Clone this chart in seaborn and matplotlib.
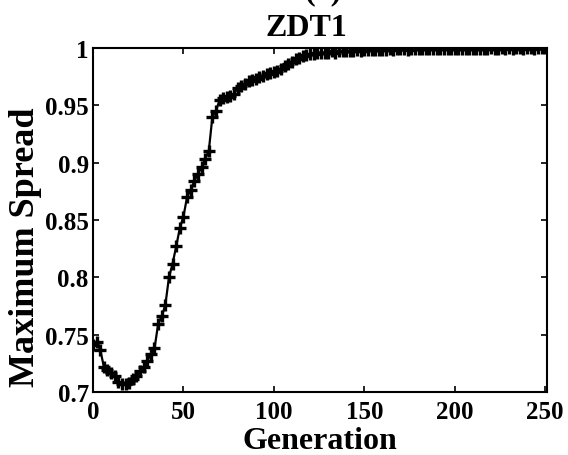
import matplotlib
matplotlib.use("Agg")
import matplotlib.pyplot as plt
import seaborn as sns
import pandas as pd

generation = list(range(0, 252, 2))
max_spread = [
    0.741, 0.744, 0.737, 0.722, 0.719, 0.717, 0.714, 0.709, 0.707, 0.707,
    0.708, 0.711, 0.714, 0.718, 0.722, 0.727, 0.733, 0.738, 0.759, 0.766,
    0.776, 0.800, 0.812, 0.827, 0.843, 0.853, 0.870, 0.876, 0.884, 0.890,
    0.896, 0.903, 0.910, 0.940, 0.945, 0.955, 0.956, 0.957, 0.958, 0.960,
    0.965, 0.967, 0.969, 0.971, 0.972, 0.973, 0.975, 0.976, 0.977, 0.978,
    0.979, 0.980, 0.982, 0.984, 0.986, 0.988, 0.990, 0.991, 0.993, 0.994,
    0.995, 0.995, 0.996, 0.996, 0.996, 0.996, 0.997, 0.996, 0.997, 0.997,
    0.997, 0.997, 0.997, 0.998, 0.997, 0.998, 0.998, 0.998, 0.998, 0.998,
    0.998, 0.998, 0.999, 0.998, 0.999, 0.999, 0.999, 0.998, 0.999, 0.999,
    0.999, 0.999, 0.999, 0.999, 0.999, 0.999, 0.999, 0.999, 0.999, 0.999,
    0.999, 0.999, 0.999, 0.999, 0.999, 0.999, 0.999, 0.999, 0.999, 0.999,
    1.000, 0.999, 0.999, 1.000, 0.999, 1.000, 0.999, 1.000, 1.000, 0.999,
    1.000, 1.000, 0.999, 1.000, 1.000, 1.000,
]
x_ticks = [0, 50, 100, 150, 200, 250]
y_ticks = [0.7, 0.75, 0.8, 0.85, 0.9, 0.95, 1.0]
y_tick_labels = ["0.7", "0.75", "0.8", "0.85", "0.9", "0.95", "1"]

df = pd.DataFrame({"Generation": generation, "Maximum Spread": max_spread})

sns.set_style("ticks")
plt.rcParams["font.family"] = ["Liberation Serif", "DejaVu Serif"]
plt.rcParams["font.weight"] = "bold"
plt.rcParams["text.color"] = "black"
plt.rcParams["axes.labelcolor"] = "black"
plt.rcParams["xtick.color"] = "black"
plt.rcParams["ytick.color"] = "black"

fig = plt.figure(figsize=(5.68, 4.56), dpi=100)
ax = fig.add_axes([93 / 568, 1 - 393 / 456, 454 / 568, 344 / 456])

sns.lineplot(data=df, x="Generation", y="Maximum Spread", ax=ax, color="black",
             linewidth=1.6, marker="+", markersize=8, markeredgewidth=2.4,
             markeredgecolor="black")

ax.set_xlim(0, 251)
ax.set_ylim(0.7, 1.0)
ax.set_xticks(x_ticks)
ax.set_yticks(y_ticks)
ax.set_yticklabels(y_tick_labels)
ax.tick_params(direction="in", length=4, width=1.2, top=True, right=True,
               labelsize=18, colors="black")
ax.tick_params(axis="y", pad=3)
ax.tick_params(axis="x", pad=6)
for lab in ax.get_xticklabels() + ax.get_yticklabels():
    lab.set_fontweight("bold")
for s in ax.spines.values():
    s.set_linewidth(1.5)
    s.set_color("black")

ax.set_xlabel("Generation", fontsize=23, fontweight="bold", labelpad=2, color="black")
ax.set_ylabel("Maximum Spread", fontsize=26, fontweight="bold", color="black")
ax.yaxis.set_label_coords(-0.113, 0.424)
ax.set_title("ZDT1", fontsize=23, fontweight="bold", pad=9, x=0.471, color="black")
fig.text(323 / 568, 1 - 6 / 456, "(a)", fontsize=23, fontweight="bold",
         ha="center", va="bottom", color="black")

fig.savefig("out.png", dpi=100)
